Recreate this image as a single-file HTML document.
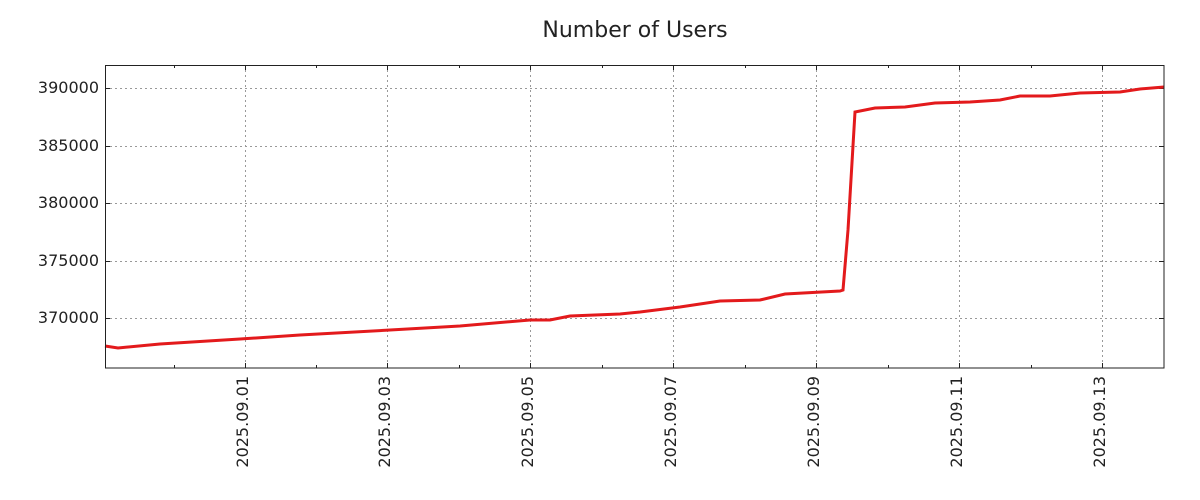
<!DOCTYPE html>
<html><head><meta charset="utf-8"><style>body{margin:0;background:#fff}svg{display:block}</style></head><body>
<svg width="1200" height="500" xmlns="http://www.w3.org/2000/svg" font-family="DejaVu Sans, Liberation Sans, sans-serif">
<text x="635" y="37" font-size="22" text-anchor="middle" fill="#222">Number of Users</text>
<g stroke="#999" stroke-width="1" stroke-dasharray="2,3">
<line x1="105" x2="1164" y1="88.5" y2="88.5"/><line x1="105" x2="1164" y1="146.5" y2="146.5"/><line x1="105" x2="1164" y1="203.5" y2="203.5"/><line x1="105" x2="1164" y1="261.5" y2="261.5"/><line x1="105" x2="1164" y1="318.5" y2="318.5"/>
<line y1="65" y2="368" x1="245.5" x2="245.5"/><line y1="65" y2="368" x1="387.5" x2="387.5"/><line y1="65" y2="368" x1="530.5" x2="530.5"/><line y1="65" y2="368" x1="673.5" x2="673.5"/><line y1="65" y2="368" x1="816.5" x2="816.5"/><line y1="65" y2="368" x1="959.5" x2="959.5"/><line y1="65" y2="368" x1="1102.5" x2="1102.5"/>
</g>
<g stroke="#222" stroke-width="1">
<path d="M245.5 368v-5M387.5 368v-5M530.5 368v-5M673.5 368v-5M816.5 368v-5M959.5 368v-5M1102.5 368v-5M245.5 65v5M387.5 65v5M530.5 65v5M673.5 65v5M816.5 65v5M959.5 65v5M1102.5 65v5"/>
<path d="M174.5 368v-3M316.5 368v-3M459.5 368v-3M602.5 368v-3M745.5 368v-3M888.5 368v-3M1031.5 368v-3M174.5 65v3M316.5 65v3M459.5 65v3M602.5 65v3M745.5 65v3M888.5 65v3M1031.5 65v3"/>
<path d="M105 88.5h5M105 146.5h5M105 203.5h5M105 261.5h5M105 318.5h5M1164 88.5h-5M1164 146.5h-5M1164 203.5h-5M1164 261.5h-5M1164 318.5h-5"/>
</g>
<polyline fill="none" stroke="#e31a1c" stroke-width="3" points="105,346 118,348 160,344 240,339 300,335 390,330 460,326 530,320 550,320 570,316 620,314 640,312 680,307 720,301 760,300 785,294 840,291 843,290 848,230 855,112 875,108 905,107 935,103 970,102 1000,100 1020,96 1050,96 1080,93 1120,92 1140,89 1164,87"/>
<rect x="105.5" y="65.5" width="1058.5" height="302.5" fill="none" stroke="#222" stroke-width="1"/>
<g font-size="16" fill="#222" text-anchor="end">
<text x="99" y="93">390000</text><text x="99" y="151">385000</text><text x="99" y="208">380000</text><text x="99" y="266">375000</text><text x="99" y="323">370000</text>
</g>
<g font-size="16" fill="#222" text-anchor="end">
<text transform="translate(248,376) rotate(-90)">2025.09.01</text>
<text transform="translate(390,376) rotate(-90)">2025.09.03</text>
<text transform="translate(533,376) rotate(-90)">2025.09.05</text>
<text transform="translate(676,376) rotate(-90)">2025.09.07</text>
<text transform="translate(819,376) rotate(-90)">2025.09.09</text>
<text transform="translate(962,376) rotate(-90)">2025.09.11</text>
<text transform="translate(1105,376) rotate(-90)">2025.09.13</text>
</g>
</svg>
</body></html>
